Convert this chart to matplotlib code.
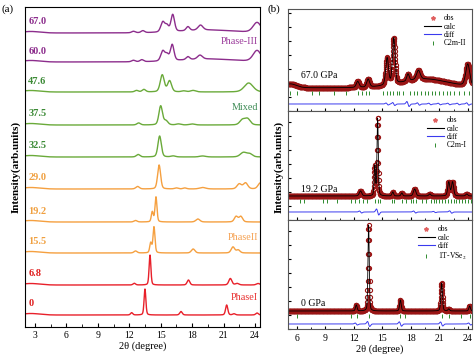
import numpy as np
import matplotlib
matplotlib.use('Agg')
import matplotlib.pyplot as plt
from matplotlib.ticker import MultipleLocator
from matplotlib.lines import Line2D

plt.rcParams['font.family'] = ['Liberation Serif', 'DejaVu Serif']
plt.rcParams['mathtext.fontset'] = 'stix'

# ---------------- panel (a): peak lists ----------------
# each peak: (2theta position, height, fwhm)
pressures_a = ['67.0', '60.0', '47.6', '37.5', '32.5', '29.0', '19.2', '15.5', '6.8', '0']
peaks_67_0 = [(12.4, 1.5, 0.4), (13.3, 2, 0.4), (15.2, 10, 0.45), (15.6, 6, 0.4),
              (16.15, 17, 0.4), (17.6, 4, 0.4), (18.8, 5, 0.55), (19.5, 3, 6.0), (24.2, 10, 0.9)]
peaks_60_0 = [(12.4, 1.5, 0.4), (13.2, 2, 0.4), (15.2, 10, 0.45), (15.6, 6, 0.4),
              (16.1, 16, 0.4), (17.6, 3, 0.4), (18.75, 4, 0.55), (19.5, 3, 6.0), (24.2, 11, 0.9)]
peaks_47_6 = [(12.7, 1.5, 0.4), (13.4, 2.5, 0.4), (15.15, 17, 0.45), (15.85, 11, 0.45),
              (17.2, 1, 0.5), (18.1, 1.5, 0.6), (23.4, 9, 1.0)]
peaks_37_5 = [(12.9, 2, 0.4), (15.0, 19, 0.4), (15.5, 4, 0.45), (16.7, 1, 0.5),
              (18.0, 1, 0.6), (22.8, 5, 0.6), (23.3, 6, 0.6)]
peaks_32_5 = [(12.85, 2.5, 0.4), (14.9, 21, 0.38), (16.2, 1, 0.5), (19.0, 1, 0.7),
              (22.9, 4.5, 0.7), (23.5, 3, 0.6)]
peaks_29_0 = [(12.8, 2.5, 0.4), (14.85, 24, 0.34), (16.5, 1, 0.4), (17.3, 1, 0.4),
              (19.0, 1.5, 0.7), (22.5, 5, 0.5), (23.1, 6, 0.5), (24.5, 6, 0.5)]
peaks_19_2 = [(12.6, 1.5, 0.35), (14.2, 10, 0.22), (14.55, 25, 0.22), (18.55, 3, 0.45),
              (22.2, 5.5, 0.4), (22.65, 5.5, 0.4)]
peaks_15_5 = [(12.6, 2, 0.35), (14.05, 10, 0.22), (14.36, 26, 0.22), (18.1, 4, 0.4),
              (21.9, 6, 0.4), (22.4, 3, 0.4)]
peaks_6_8 = [(12.48, 1.7, 0.28), (13.98, 30, 0.2), (17.65, 5, 0.3), (21.65, 6.5, 0.35),
             (22.3, 1.5, 0.4), (24.3, 1.5, 0.4)]
peaks_0 = [(12.23, 2.3, 0.25), (13.5, 26, 0.2), (16.94, 3.5, 0.28), (21.3, 10, 0.25),
           (22.0, 1.2, 0.3), (24.2, 2, 0.3)]
peaks_a = [peaks_67_0, peaks_60_0, peaks_47_6, peaks_37_5, peaks_32_5,
           peaks_29_0, peaks_19_2, peaks_15_5, peaks_6_8, peaks_0]

# ---------------- panel (b): refinements ----------------
labels_b = ['67.0 GPa', '19.2 GPa', '0 GPa']
phases_b = ['C2m-II', 'C2m-I', '1T-VSe$_2$']
peaks_b_67 = [(5.3, 4, 1.5), (12.4, 6, 0.35), (13.5, 8, 0.35), (15.5, 27, 0.35), (16.2, 46, 0.32),
              (17.7, 7, 0.3), (18.8, 9, 0.45), (19.5, 9, 6.0), (24.0, 22, 0.5)]
peaks_b_19 = [(12.7, 5, 0.3), (14.2, 30, 0.16), (14.5, 78, 0.16), (16.1, 4, 0.2),
              (17.05, 3, 0.2), (18.4, 7, 0.3), (20.0, 2, 0.25), (22.0, 14, 0.26),
              (22.4, 14, 0.26), (23.9, 2, 0.25)]
peaks_b_0 = [(12.25, 6, 0.2), (13.55, 86, 0.16), (16.9, 11, 0.2), (21.25, 28, 0.2),
             (22.0, 2, 0.2), (24.2, 5, 0.2)]
diff_b_67 = [(15.5, 1.0), (16.2, 1.5), (17.7, 2.5), (18.8, 1.2), (20.0, 0.8),
             (21.0, 0.8), (22.0, 0.8), (23.0, 0.8), (24.0, 1.2)]
diff_b_19 = [(12.7, 1.0), (14.5, 3.0), (18.4, 1.0), (20.5, 0.6), (22.2, 1.2)]
diff_b_0 = [(12.25, 1.0), (13.55, 2.5), (16.9, 2.2), (21.25, 2.0), (24.2, 1.0)]
ticks_c2m_ii = [5.3, 6.0, 7.6, 8.3, 9.9, 11.2, 12.4, 12.8, 13.3, 13.6, 15.1, 15.5, 15.8, 16.1,
                16.5, 16.8, 17.2, 17.9, 18.3, 18.6, 19.1, 19.5, 19.8, 20.2, 20.5, 21.0, 21.4,
                21.8, 22.1, 22.6, 23.1, 23.6, 24.1, 24.4]
ticks_c2m_i = [6.3, 6.7, 8.7, 9.2, 10.2, 11.7, 12.1, 12.5, 13.0, 13.4, 14.2, 14.5, 14.8, 16.0,
               16.2, 17.1, 17.5, 18.0, 18.2, 18.5, 19.2, 19.6, 20.1, 20.4, 20.7, 21.0, 21.3,
               21.6, 21.9, 22.2, 22.5, 22.8, 23.1, 23.4, 23.7, 24.0, 24.3]
ticks_vse2 = [6.0, 11.7, 12.3, 13.6, 16.9, 17.4, 21.3, 22.0, 23.3, 24.2]
peaks_b = [peaks_b_67, peaks_b_19, peaks_b_0]
diffs_b = [diff_b_67, diff_b_19, diff_b_0]
ticks_b = [ticks_c2m_ii, ticks_c2m_i, ticks_vse2]


def profile(x, peaks, eta=0.3):
    y = np.zeros_like(x)
    for p, h, w in peaks:
        g = np.exp(-4 * np.log(2) * ((x - p) / w) ** 2)
        l = 1.0 / (1 + 4 * ((x - p) / w) ** 2)
        y += h * ((1 - eta) * g + eta * l)
    return y


def diff_shape(x, feats, w=0.12):
    y = np.zeros_like(x)
    for p, a in feats:
        u = (x - p) / w
        y += -a * 1.65 * u * np.exp(-u ** 2 / 2)
    return y


# layout / style
offsets_a = [294, 265, 235, 202, 170, 138, 105, 74, 42, 12]
purple, green, orange, red = '#8c2d8c', '#6aaa3a', '#f5a040', '#e8202a'
curve_colors = [purple] * 2 + [green] * 3 + [orange] * 3 + [red] * 2
label_colors = ['#8c2d8c'] * 2 + ['#3d8b37'] * 3 + ['#f0a040'] * 3 + ['#e02020'] * 2

fig = plt.figure(figsize=(4.74, 3.56), dpi=100)

# ---- panel a ----
ax = fig.add_axes([25 / 474, 1 - 327 / 356, 235 / 474, 320 / 356])
x = np.linspace(2.05, 24.5, 1500)
for i, name in enumerate(pressures_a):
    hump = profile(x, [(2.6, 1.5, 2.0)], eta=0)
    y = offsets_a[i] + hump + profile(x, peaks_a[i])
    ax.plot(x, y, color=curve_colors[i], lw=1.0)
    ax.text(2.35, offsets_a[i] + 11, name, color=label_colors[i], fontsize=7.5,
            fontweight='bold', va='center', ha='left')

ax.text(24.3, 285, 'Phase-III', color='#9b3b9b', fontsize=7.3, ha='right', va='center')
ax.text(24.3, 219, 'Mixed', color='#3d8b55', fontsize=7.3, ha='right', va='center')
ax.text(24.3, 89, 'PhaseII', color='#f5a050', fontsize=7.3, ha='right', va='center')
ax.text(24.3, 29, 'PhaseI', color='#e83030', fontsize=7.3, ha='right', va='center')

ax.set_xlim(2.05, 24.48)
ax.set_ylim(0, 320)
ax.set_xticks(np.arange(3, 25, 3))
ax.xaxis.set_minor_locator(MultipleLocator(1.5))
ax.set_yticks([])
ax.tick_params(axis='x', which='both', direction='in', labelsize=7, pad=3)
ax.tick_params(axis='x', which='major', length=3)
ax.tick_params(axis='x', which='minor', length=2)
ax.set_xlabel('2θ (degree)', fontsize=7.5, labelpad=1)
ax.set_ylabel('Intensity(arb.units)', fontsize=8, fontweight='bold', labelpad=3)
fig.text(2 / 474, 1 - 9 / 356, '(a)', fontsize=8, va='center')

# ---- panel b ----
left_b, right_b = 288 / 474, 472 / 474
edges = [9, 111, 220, 329]
xb = np.arange(5.05, 24.45, 0.02)
levels = [(23, 18, 7), (24, 19, 8), (18, 13, 5)]  # obs baseline, tick row, diff line
text_pos = [(6.4, 35), (6.4, 30), (6.4, 25)]
axes_b = []
for k in range(3):
    top, bot = edges[k], edges[k + 1]
    axb = fig.add_axes([left_b, 1 - bot / 356, right_b - left_b, (bot - top) / 356])
    axes_b.append(axb)
    base, trow, dlev = levels[k]
    calc = base + profile(xb, peaks_b[k])
    axb.plot(xb, calc, ls='', marker='o', ms=3, mfc='none', mec='#9a1515', mew=0.8)
    axb.plot(xb, calc, color='black', lw=0.6)
    axb.plot(xb, dlev + diff_shape(xb, diffs_b[k]), color='#3a3aee', lw=0.7)
    axb.plot(ticks_b[k], [trow] * len(ticks_b[k]), ls='', marker='|', ms=3.5,
             mew=0.7, color='#2e8b2e')
    axb.text(text_pos[k][0], text_pos[k][1], labels_b[k], fontsize=7, va='center')
    axb.set_xlim(5.05, 24.45)
    axb.set_ylim(0, bot - top)
    axb.set_xticks(np.arange(6, 25, 3))
    axb.xaxis.set_minor_locator(MultipleLocator(1.5))
    axb.yaxis.set_major_locator(MultipleLocator(14))
    axb.tick_params(axis='both', which='both', direction='in', labelsize=7, labelleft=False)
    axb.tick_params(axis='both', which='major', length=2.5)
    axb.tick_params(axis='both', which='minor', length=1.5)
    if k < 2:
        axb.tick_params(axis='x', labelbottom=False)
    for s in axb.spines.values():
        s.set_color('#555555')
        s.set_linewidth(0.8)
    handles = [Line2D([], [], ls='', marker='*', ms=3, color='#e06060'),
               Line2D([], [], color='black', lw=0.8),
               Line2D([], [], color='#3a3aee', lw=0.8),
               Line2D([], [], ls='', marker='|', ms=3, mew=0.7, color='#2e8b2e')]
    axb.legend(handles, ['obs', 'calc', 'diff', phases_b[k]], loc='upper right',
               fontsize=5.5, frameon=False, handlelength=2.2, labelspacing=0.05,
               borderaxespad=0.3, handletextpad=0.4)

axes_b[2].set_xlabel('2θ (degree)', fontsize=7.5, labelpad=1)
fig.text(279 / 474, 1 - 167 / 356, 'Intensity(arb.units)', fontsize=8, fontweight='bold',
         rotation=90, ha='center', va='center')
fig.text(268 / 474, 1 - 9 / 356, '(b)', fontsize=8, va='center')

fig.savefig('out.png', dpi=100)
